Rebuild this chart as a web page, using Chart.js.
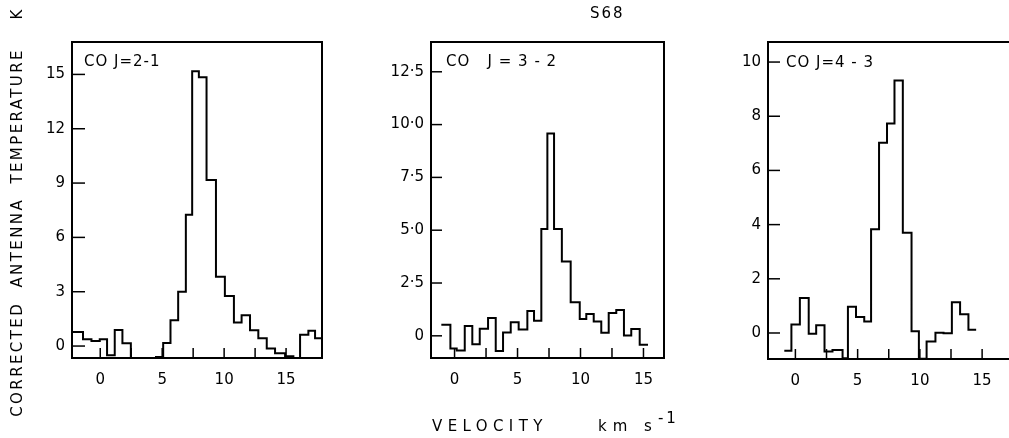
<!DOCTYPE html>
<html>
<head>
<meta charset="utf-8">
<script src="https://cdn.jsdelivr.net/npm/chart.js@4.4.1/dist/chart.umd.min.js"></script>
<style>
  body { margin: 0; width: 1009px; height: 438px; overflow: hidden; background: #fff; position: relative; font-family: "DejaVu Sans", sans-serif; color: #000; }
  .panel { position: absolute; top: 0; height: 438px; }
  .txt { position: absolute; white-space: pre; font-size: 15px; line-height: 18px; }
</style>
</head>
<body>
<div class="panel" style="left:20px;width:310px"><canvas id="co21"></canvas></div>
<div class="panel" style="left:380px;width:292px"><canvas id="co32"></canvas></div>
<div class="panel" style="left:718px;width:302px"><canvas id="co43"></canvas></div>

<div class="txt" style="left:590px;top:4px;letter-spacing:2px">S68</div>
<div class="txt" style="left:84px;top:52px;letter-spacing:1px">CO J=2-1</div>
<div class="txt" style="left:446px;top:52px;letter-spacing:1px">CO   J = 3 - 2</div>
<div class="txt" style="left:786px;top:53px;letter-spacing:1px">CO J=4 - 3</div>
<div class="txt" style="left:-193px;top:203px;width:420px;text-align:center;letter-spacing:2.4px;transform:rotate(-90deg)">CORRECTED  ANTENNA  TEMPERATURE    K</div>
<div class="txt" style="left:432px;top:417px;letter-spacing:5.4px">VELOCITY</div>
<div class="txt" style="left:598px;top:417px;letter-spacing:6px">km s<span style="position:relative;top:-8px;font-size:15px;letter-spacing:3px">-1</span></div>

<script>
// channel edges (km/s) and corrected antenna temperature (K)
const co21Edges = [-2.65, -2.02, -1.39, -0.71, -0.04, 0.55, 1.17, 1.79, 2.47, 3.1, 3.8, 4.5, 5.08, 5.67, 6.29, 6.91, 7.42, 7.96, 8.58, 9.34, 10.06, 10.79, 11.41, 12.09, 12.76, 13.44, 14.11, 14.92, 15.59, 16.13, 16.8, 17.34, 18.0];
const co21Temps = [0.77, 0.77, 0.37, 0.28, 0.37, -0.51, 0.88, 0.15, -1.5, -1.5, -1.5, -0.6, 0.17, 1.43, 3.0, 7.25, 15.17, 14.85, 9.17, 3.83, 2.76, 1.3, 1.7, 0.87, 0.43, -0.14, -0.4, -0.57, -1.5, 0.62, 0.85, 0.43];

const co32Edges = [-1.05, -0.33, 0.17, 0.81, 1.41, 2.0, 2.66, 3.27, 3.85, 4.46, 5.09, 5.78, 6.31, 6.89, 7.37, 7.9, 8.52, 9.22, 9.94, 10.46, 11.05, 11.65, 12.24, 12.84, 13.45, 14.03, 14.7, 15.36];
const co32Temps = [0.52, -0.6, -0.7, 0.47, -0.4, 0.33, 0.84, -0.72, 0.16, 0.64, 0.3, 1.18, 0.71, 5.06, 9.58, 5.06, 3.52, 1.59, 0.8, 1.03, 0.68, 0.14, 1.08, 1.22, 0.02, 0.32, -0.42];

const co43Edges = [-0.89, -0.32, 0.36, 1.07, 1.67, 2.34, 2.98, 3.79, 4.22, 4.87, 5.53, 6.08, 6.72, 7.36, 7.96, 8.63, 9.33, 9.92, 10.54, 11.25, 11.9, 12.57, 13.23, 13.9, 14.52];
const co43Temps = [-0.66, 0.31, 1.29, -0.03, 0.29, -0.68, -0.63, -0.93, 0.97, 0.59, 0.42, 3.83, 7.02, 7.73, 9.32, 3.7, 0.06, -0.95, -0.31, 0.01, -0.01, 1.13, 0.69, 0.12];

const velTickLabels = ["0", "5", "10", "15"];
const co32TickLabels = ["0", "2·5", "5·0", "7·5", "10·0", "12·5"];

const FONT = { family: "DejaVu Sans", size: 15 };

// box around the plot + inward tick marks
const frameTicks = {
  id: "frameTicks",
  afterDatasetsDraw(chart, args, opts) {
    const { ctx, chartArea: a, scales } = chart;
    ctx.save();
    ctx.strokeStyle = "#000";
    ctx.lineWidth = 2;
    ctx.strokeRect(a.left, a.top, a.right - a.left, a.bottom - a.top);
    ctx.lineWidth = 1.5;
    scales.x.ticks.forEach(t => {
      const px = scales.x.getPixelForValue(t.value);
      ctx.beginPath(); ctx.moveTo(px, a.bottom); ctx.lineTo(px, a.bottom - 10); ctx.stroke();
    });
    scales.y.ticks.forEach(t => {
      const py = scales.y.getPixelForValue(t.value);
      ctx.beginPath(); ctx.moveTo(a.left, py); ctx.lineTo(a.left + opts.yTick, py); ctx.stroke();
    });
    ctx.restore();
  }
};

function toSteps(edges, temps) {
  const pts = temps.map((t, i) => ({ x: edges[i], y: t }));
  pts.push({ x: edges[edges.length - 1], y: temps[temps.length - 1] });
  return pts;
}

function makePanel(id, edges, temps, c) {
  new Chart(document.getElementById(id), {
    type: "line",
    data: {
      datasets: [{
        data: toSteps(edges, temps),
        stepped: true,
        borderColor: "#000",
        borderWidth: 2,
        pointRadius: 0,
        fill: false
      }]
    },
    options: {
      responsive: true,
      maintainAspectRatio: false,
      animation: false,
      layout: { padding: { left: c.padLeft, right: 8, top: 42, bottom: c.padBottom } },
      plugins: { legend: { display: false }, tooltip: { enabled: false }, frameTicks: { yTick: c.yTick } },
      scales: {
        x: {
          type: "linear",
          min: c.xMin, max: c.xMax,
          grid: { display: false, drawTicks: false },
          border: { display: false },
          afterBuildTicks: s => { s.ticks = s.ticks.filter(t => t.value >= 0 && t.value <= 15); },
          afterFit: s => { s.height = 30; },
          ticks: {
            stepSize: 2.5, includeBounds: false, autoSkip: false, maxRotation: 0,
            padding: 13, color: "#000", font: FONT,
            callback: v => (v % 5 === 0 ? velTickLabels[v / 5] : "")
          }
        },
        y: {
          min: c.yMin, max: c.yMax,
          grid: { display: false, drawTicks: false },
          border: { display: false },
          afterFit: s => { s.width = 45; },
          ticks: {
            stepSize: c.yStep, includeBounds: false, padding: 7, color: "#000", font: FONT,
            callback: c.yLabel
          }
        }
      }
    },
    plugins: [frameTicks]
  });
}

makePanel("co21", co21Edges, co21Temps, {
  padLeft: 7, padBottom: 50, xMin: -2.28, xMax: 17.9, yMin: -0.66, yMax: 16.79, yStep: 3, yTick: 13,
  yLabel: v => String(v)
});
makePanel("co32", co32Edges, co32Temps, {
  padLeft: 6, padBottom: 50, xMin: -1.87, xMax: 16.63, yMin: -1.05, yMax: 13.91, yStep: 2.5, yTick: 11,
  yLabel: v => co32TickLabels[Math.round(v / 2.5)]
});
makePanel("co43", co43Edges, co43Temps, {
  padLeft: 5, padBottom: 49, xMin: -2.2, xMax: 17.4, yMin: -0.96, yMax: 10.74, yStep: 2, yTick: 12,
  yLabel: v => String(v)
});
</script>
</body>
</html>
